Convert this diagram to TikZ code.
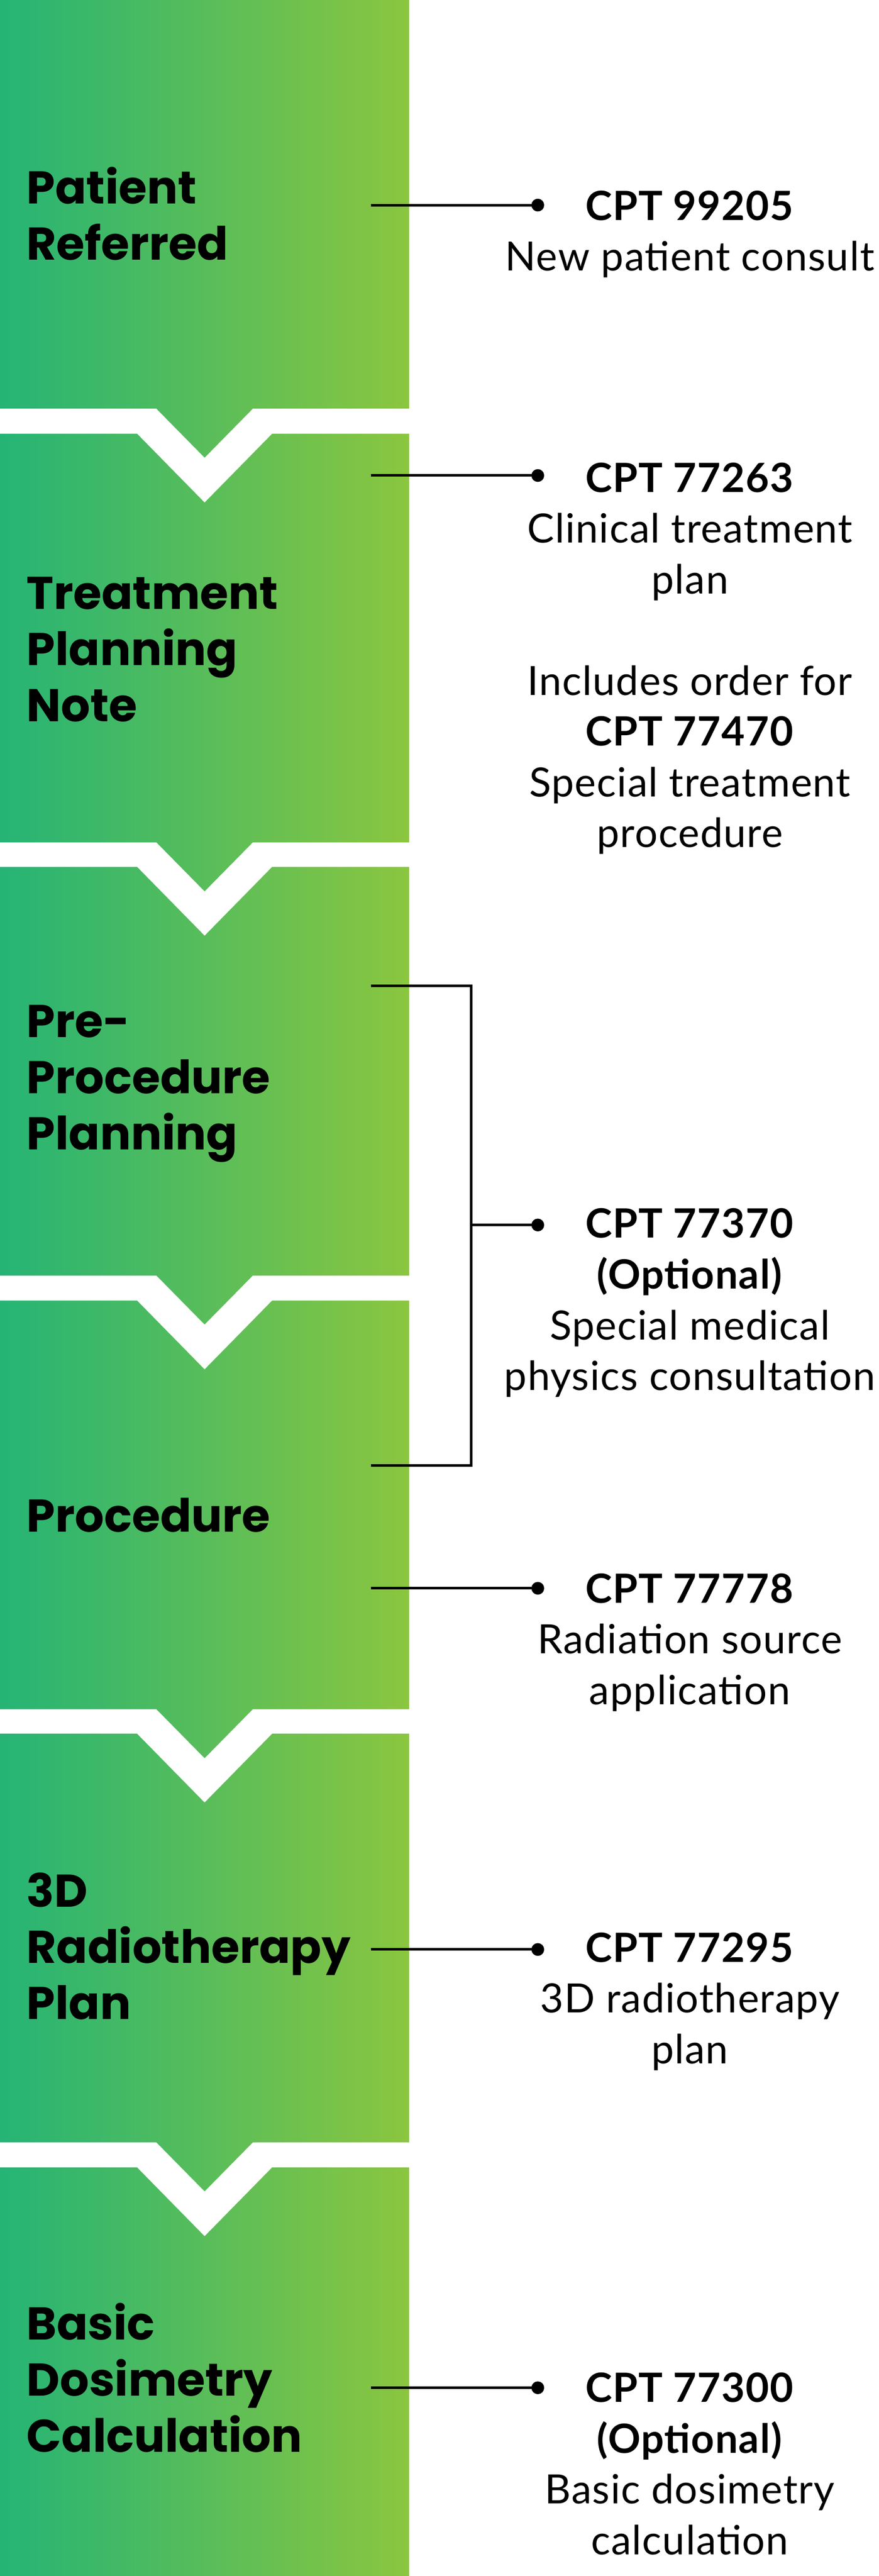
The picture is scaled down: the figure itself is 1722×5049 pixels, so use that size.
\documentclass[tikz,border=0pt]{standalone}
\usepackage{fontspec}
\newfontfamily\labelfont{Poppins}
\newfontfamily\codefont[LetterSpace=2]{Lato}
\definecolor{gL}{RGB}{37,180,117}
\definecolor{gR}{RGB}{139,198,63}
\begin{document}
\begin{tikzpicture}[x=1pt,y=-1pt,
  stepshade/.style={left color=gL, right color=gR, draw=none},
  steplabel/.style={anchor=base west, inner sep=0pt, align=left, font=\labelfont\bfseries\fontsize{90}{110}\selectfont},
  codetext/.style={anchor=base, inner sep=0pt, align=center, font=\codefont\fontsize{79}{99.5}\selectfont},
  conn/.style={line width=5pt, black},
  dotnode/.style={circle, fill=black, inner sep=0pt, minimum size=25pt}]
\useasboundingbox (0,0) rectangle (1722,5049);
\fill[white] (0,0) rectangle (1722,5049);
% step boxes
\shade[stepshade] (0,0) -- (802,0) -- (802,801) -- (495.5,801) -- (401,897) -- (306.5,801) -- (0,801) -- cycle;
\shade[stepshade] (0,850) -- (268.5,850) -- (401,985) -- (533.5,850) -- (802,850) -- (802,1651) -- (495.5,1651) -- (401,1747) -- (306.5,1651) -- (0,1651) -- cycle;
\shade[stepshade] (0,1699) -- (268.5,1699) -- (401,1834) -- (533.5,1699) -- (802,1699) -- (802,2500) -- (495.5,2500) -- (401,2596) -- (306.5,2500) -- (0,2500) -- cycle;
\shade[stepshade] (0,2549) -- (268.5,2549) -- (401,2684) -- (533.5,2549) -- (802,2549) -- (802,3350) -- (495.5,3350) -- (401,3446) -- (306.5,3350) -- (0,3350) -- cycle;
\shade[stepshade] (0,3398) -- (268.5,3398) -- (401,3533) -- (533.5,3398) -- (802,3398) -- (802,4199) -- (495.5,4199) -- (401,4295) -- (306.5,4199) -- (0,4199) -- cycle;
\shade[stepshade] (0,4248) -- (268.5,4248) -- (401,4383) -- (533.5,4248) -- (802,4248) -- (802,5049) -- (0,5049) -- cycle;
% step labels (anchored at the baseline of their last line)
\node[steplabel] (l1) at (52,509) {Patient\\Referred};
\node[steplabel] (l2) at (52,1414) {Treatment\\Planning\\Note};
\node[steplabel] (l3) at (52,2253) {Pre-\\Procedure\\Planning};
\node[steplabel] (l4) at (52,3003) {Procedure};
\node[steplabel] (l5) at (52,3958) {3D\\Radiotherapy\\Plan};
\node[steplabel] (l6) at (52,4806) {Basic\\Dosimetry\\Calculation};
% code texts (anchored at the baseline of their last line)
\node[codetext] (c1) at (1352,531) {\textbf{CPT 99205}\\New patient consult};
\node[codetext] (c2) at (1352,1661) {\textbf{CPT 77263}\\Clinical treatment\\plan\\[99.5pt]Includes order for\\\textbf{CPT 77470}\\Special treatment\\procedure};
\node[codetext] (c3) at (1352,2725) {\textbf{CPT 77370}\\\textbf{(Optional)}\\Special medical\\physics consultation};
\node[codetext] (c4) at (1352,3340.5) {\textbf{CPT 77778}\\Radiation source\\application};
\node[codetext] (c5) at (1352,4044.5) {\textbf{CPT 77295}\\3D radiotherapy\\plan};
\node[codetext] (c6) at (1352,5007) {\textbf{CPT 77300}\\\textbf{(Optional)}\\Basic dosimetry\\calculation};
% connectors
\node[dotnode] (d1) at (1054,402) {};
\node[dotnode] (d2) at (1054,932) {};
\node[dotnode] (d3) at (1054,2401) {};
\node[dotnode] (d4) at (1054,3113) {};
\node[dotnode] (d5) at (1054,3821) {};
\node[dotnode] (d6) at (1054,4680) {};
\coordinate (s1) at (727,402);
\coordinate (s2) at (727,932);
\coordinate (s3a) at (727,1932);
\coordinate (s3b) at (727,2872);
\coordinate (s4) at (727,3113);
\coordinate (s5) at (727,3821);
\coordinate (s6) at (727,4680);
\coordinate (br) at (923,2401);
\draw[conn] (s1) -- (d1.center);
\draw[conn] (s2) -- (d2.center);
\draw[conn] (s3a) -| (br) |- (s3b);
\draw[conn] (br) -- (d3.center);
\draw[conn] (s4) -- (d4.center);
\draw[conn] (s5) -- (d5.center);
\draw[conn] (s6) -- (d6.center);
\end{tikzpicture}
\end{document}
